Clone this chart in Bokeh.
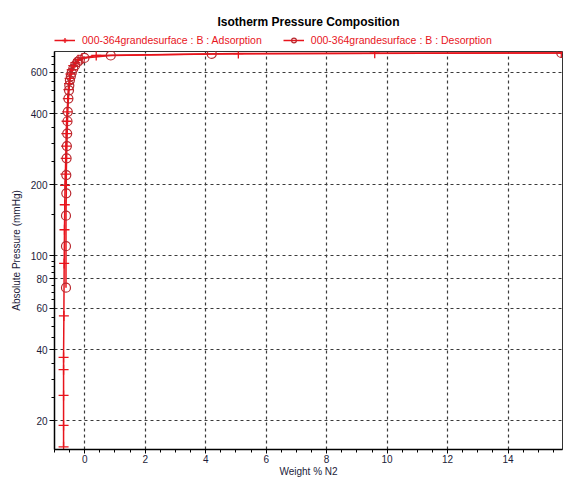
from bokeh.plotting import figure
from bokeh.layouts import column
from bokeh.models import (Range1d, FixedTicker, SingleIntervalTicker, NumeralTickFormatter,
                          Legend, LegendItem, Title)
from bokeh.embed import file_html
from bokeh.resources import INLINE

# ---- data ----
ads_x = [-0.70, -0.70, -0.70, -0.70, -0.70, -0.69, -0.68, -0.67, -0.66, -0.65, -0.64,
         -0.63, -0.62, -0.61, -0.60, -0.58, -0.56, -0.54, -0.52, -0.50, -0.47, -0.43,
         -0.38, -0.31, -0.22, -0.09, 0.38, 5.08, 9.59, 15.76]
ads_y = [15.5, 19.1, 25.6, 32.9, 37.1, 55.6, 92.9, 129, 164.7, 199, 222,
         259, 292, 330, 372, 408, 464, 507, 537, 565, 590, 615,
         640, 660, 678, 690, 707, 720, 723, 725]

des_x = [-0.62, -0.62, -0.62, -0.61, -0.61, -0.60, -0.59, -0.58, -0.57, -0.56, -0.54,
         -0.52, -0.51, -0.49, -0.46, -0.43, -0.38, -0.32, -0.24, -0.16, -0.01, 0.86,
         4.20, 15.76]
des_y = [73.3, 109.9, 148, 184, 220, 259, 292, 330, 372, 408, 464,
         503, 528, 555, 577, 598, 621, 641, 662, 678, 690, 707,
         718, 725]

y_major = [20, 40, 60, 80, 100, 200, 400, 600]
y_minor = [25, 30, 35, 45, 50, 55, 65, 70, 75, 85, 90, 95, 150,
           250, 300, 350, 450, 500, 550, 650, 700]

title_text = "Isotherm Pressure Composition"
ads_label = "000-364grandesurface : B : Adsorption"
des_label = "000-364grandesurface : B : Desorption"

FONT = "Liberation Sans"
RED = "#e8141c"
DRED = "#b8282e"
TICK_COL = "#1c1c3a"

# ---------------- main plot ----------------
p = figure(width=563, height=429, y_axis_type="log",
           x_range=Range1d(-1.0, 15.8), y_range=Range1d(15.1, 735),
           output_backend="svg", toolbar_location=None,
           min_border_left=54, min_border_right=1, min_border_top=1,
           min_border_bottom=0)
p.title_location = None

for g in (p.xgrid, p.ygrid):
    g.grid_line_color = "#3a3a3a"
    g.grid_line_dash = "3 3"
    g.grid_line_width = 1.2
p.xgrid.ticker = SingleIntervalTicker(interval=2, num_minor_ticks=4)
p.ygrid.ticker = FixedTicker(ticks=y_major)

p.xaxis.ticker = SingleIntervalTicker(interval=2, num_minor_ticks=4)
p.yaxis.ticker = FixedTicker(ticks=y_major, minor_ticks=y_minor)
p.yaxis.formatter = NumeralTickFormatter(format="0")
for ax in (p.xaxis, p.yaxis):
    ax.axis_line_color = "#000000"
    ax.axis_line_width = 1.5
    ax.major_tick_line_color = "#000000"
    ax.minor_tick_line_color = "#000000"
    ax.major_tick_out = 5
    ax.major_tick_in = 0
    ax.minor_tick_out = 3
    ax.minor_tick_in = 0
    ax.major_label_text_font = FONT
    ax.major_label_text_font_size = "10px"
    ax.major_label_text_color = TICK_COL
    ax.major_label_standoff = 2
    ax.axis_label_text_font = FONT
    ax.axis_label_text_font_size = "10px"
    ax.axis_label_text_font_style = "normal"
    ax.axis_label_text_color = TICK_COL
    ax.axis_label_standoff = 6
p.xaxis.axis_label = "Weight % N2"
p.yaxis.axis_label = "Absolute Pressure (mmHg)"
p.xaxis.axis_label_standoff = 0
p.xaxis.major_label_standoff = 1
p.xaxis.major_tick_out = 4

p.outline_line_color = "#333333"
p.outline_line_width = 1

l1 = p.line(ads_x, ads_y, line_color=RED, line_width=1.5)
s1 = p.scatter(ads_x, ads_y, marker="cross", size=10, line_color=RED, line_width=1.3)
l2 = p.line(des_x, des_y, line_color=RED, line_width=1.5)
s2 = p.scatter(des_x, des_y, marker="circle", size=9, line_color=DRED,
               fill_color=None, line_width=1.2)

# ---------------- header: title + legend ----------------
# the header's ranges lie far from the data, so its proxy glyphs only show in the legend
h = figure(width=563, height=50, output_backend="svg", toolbar_location=None,
           x_range=Range1d(1000, 1001), y_range=Range1d(1000, 1001),
           x_axis_location=None, y_axis_location=None,
           min_border_left=54, min_border_right=1, min_border_top=0,
           min_border_bottom=0)
h.title_location = None
h.grid.visible = False
h.outline_line_color = None

hl1 = h.line(ads_x[:2], ads_y[:2], line_color=RED, line_width=1.5)
hs1 = h.scatter(ads_x[:1], ads_y[:1], marker="cross", size=10, line_color=RED, line_width=1.3)
hl2 = h.line(des_x[:2], des_y[:2], line_color=RED, line_width=1.5)
hs2 = h.scatter(des_x[:1], des_y[:1], marker="circle", size=9, line_color=DRED,
                fill_color=None, line_width=1.2)

legend = Legend(items=[LegendItem(label=ads_label, renderers=[hl1, hs1]),
                       LegendItem(label=des_label, renderers=[hl2, hs2])],
                orientation="horizontal", location=(0, 4),
                label_text_font=FONT, label_text_font_size="10.5px",
                label_text_color=RED, glyph_width=21, glyph_height=12,
                label_height=12, label_standoff=7, spacing=21, padding=0, margin=0,
                border_line_color=None, background_fill_alpha=0)
h.add_layout(legend, "center")

title = Title(text=title_text, align="center", text_font=FONT, text_font_size="12px",
              text_font_style="bold", text_color="#000000", standoff=2)
h.add_layout(title, "above")
spacer = Title(text=" ", text_font_size="8px", standoff=0)
h.add_layout(spacer, "above")

layout = column(h, p, spacing=0)
open("out.html", "w").write(file_html(layout, INLINE))
